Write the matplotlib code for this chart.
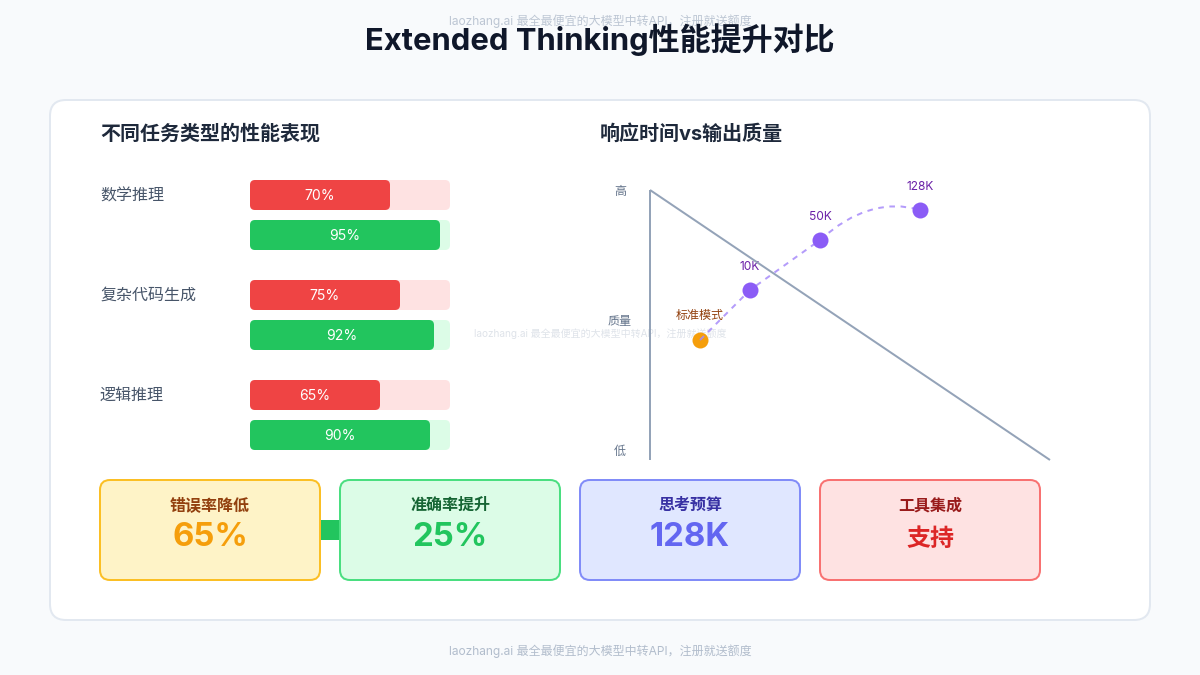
from matplotlib import pyplot as plt
from matplotlib.patches import FancyBboxPatch, PathPatch, Rectangle
from matplotlib.path import Path

plt.rcParams['font.family'] = ['Inter', 'Noto Sans CJK SC', 'DejaVu Sans']

tasks = ["数学推理", "复杂代码生成", "逻辑推理"]
standard = [70, 75, 65]
extended = [95, 92, 90]

point_labels = ["标准模式", "10K", "50K", "128K"]
point_x = [50, 100, 170, 270]
point_y = [120, 170, 220, 250]
curve_control = (220, 265)

axis_labels = ["高", "质量", "低"]

card_titles = ["错误率降低", "准确率提升", "思考预算", "工具集成"]
card_values = ["65%", "25%", "128K", "支持"]
card_fill = ["#fef3c7", "#dcfce7", "#e0e7ff", "#fee2e2"]
card_edge = ["#fbbf24", "#4ade80", "#818cf8", "#f87171"]
card_title_color = ["#92400e", "#166534", "#3730a3", "#991b1b"]
card_value_color = ["#f59e0b", "#22c55e", "#6366f1", "#dc2626"]

watermark = "laozhang.ai 最全最便宜的大模型中转API，注册就送额度"


def px(size):
    return size * 0.72


def rounded(ax, x, y, w, h, r, fc, ec="none", lw=0, zorder=2):
    box = FancyBboxPatch((x, y), w, h, boxstyle=f"round,pad=0,rounding_size={r}",
                         fc=fc, ec=ec, lw=lw, zorder=zorder)
    ax.add_patch(box)


fig = plt.figure(figsize=(12, 6.75), dpi=100, facecolor="#f8fafc")
ax = fig.add_axes([0, 0, 1, 1])
ax.set_xlim(0, 1200)
ax.set_ylim(675, 0)
ax.axis("off")

ax.text(600, 21, watermark, ha="center", va="center", fontsize=px(12), color="#94a3b8", alpha=0.6, zorder=1)
ax.text(600, 651, watermark, ha="center", va="center", fontsize=px(12), color="#94a3b8", alpha=0.7, zorder=1)
ax.text(600, 40, "Extended Thinking性能提升对比", ha="center", va="center", fontsize=px(31),
        fontweight="bold", color="#0f172a", zorder=5)

rounded(ax, 50, 100, 1100, 520, 16, "white", "#e2e8f0", px(2), zorder=1)

ax.text(100, 134, "不同任务类型的性能表现", va="center", fontsize=px(20), fontweight="bold", color="#1e293b")
ax.text(600, 134, "响应时间vs输出质量", va="center", fontsize=px(20), fontweight="bold", color="#1e293b")

# bars, 100% = 200 px
for i, task in enumerate(tasks):
    top = 180 + i * 100
    ax.text(100, top + 15.5, task, va="center", fontsize=px(16), color="#475569")
    rounded(ax, 250, top, 200, 30, 5, "#fee2e2")
    rounded(ax, 250, top, standard[i] * 2, 30, 5, "#ef4444", zorder=3)
    ax.text(250 + standard[i], top + 16, f"{standard[i]}%", ha="center", va="center",
            fontsize=px(14), color="white", zorder=4)
    rounded(ax, 250, top + 40, 200, 30, 5, "#dcfce7")
    rounded(ax, 250, top + 40, extended[i] * 2, 30, 5, "#22c55e", zorder=3)
    ax.text(250 + extended[i], top + 56, f"{extended[i]}%", ha="center", va="center",
            fontsize=px(14), color="white", zorder=4)

# quality chart, own axes so the points go through its scale
qa = fig.add_axes([650 / 1200, 1 - 460 / 675, 400 / 1200, 270 / 675])
qa.set_xlim(0, 400)
qa.set_ylim(0, 270)
qa.axis("off")
qa.patch.set_alpha(0)
qa.plot([0, 0], [0, 270], color="#94a3b8", lw=px(2), clip_on=False, solid_capstyle="butt")
qa.plot([0, 400], [270, 0], color="#94a3b8", lw=px(2), clip_on=False, solid_capstyle="butt")
qa.scatter(point_x[0], point_y[0], s=px(16) ** 2, color="#f59e0b", zorder=3, linewidths=0, clip_on=False)
qa.scatter(point_x[1:], point_y[1:], s=px(16) ** 2, color="#8b5cf6", zorder=5, linewidths=0, clip_on=False)
verts = [(point_x[0], point_y[0]), (point_x[1], point_y[1]), (point_x[2], point_y[2]),
         curve_control, (point_x[3], point_y[3])]
codes = [Path.MOVETO, Path.LINETO, Path.LINETO, Path.CURVE3, Path.CURVE3]
qa.add_patch(PathPatch(Path(verts, codes), fc="none", ec="#a78bfa", alpha=0.85, lw=px(2),
                       ls=(0, (2.8, 2.8)), zorder=4, clip_on=False))

for i, label in enumerate(point_labels):
    ax.text(point_x[i] + 650, 460 - point_y[i] - 23.5, label, ha="center", va="center", fontsize=px(12),
            color="#92400e" if i == 0 else "#6b21a8", zorder=5)

for label, y in zip(axis_labels, [192, 322, 452]):
    ax.text(620, y, label, ha="center", va="center", fontsize=px(12), color="#64748b")

ax.text(600, 334, watermark, ha="center", va="center", fontsize=px(10), color="#94a3b8", alpha=0.3, zorder=6)

# bottom cards
ax.add_patch(Rectangle((320, 520), 20, 20, fc="#22c55e", ec="none", zorder=2))
for i in range(4):
    x = 100 + i * 240
    rounded(ax, x, 480, 220, 100, 10, card_fill[i], card_edge[i], px(2), zorder=3)
    ax.text(x + 110, 505.5, card_titles[i], ha="center", va="center", fontsize=px(16), fontweight="bold",
            color=card_title_color[i], zorder=4)
    size = 24 if i == 3 else 33
    ax.text(x + 110, 538 if i < 3 else 540, card_values[i], ha="center", va="center", fontsize=px(size),
            fontweight="bold", color=card_value_color[i], zorder=4)

plt.savefig("out.png", dpi=100, facecolor=fig.get_facecolor())
